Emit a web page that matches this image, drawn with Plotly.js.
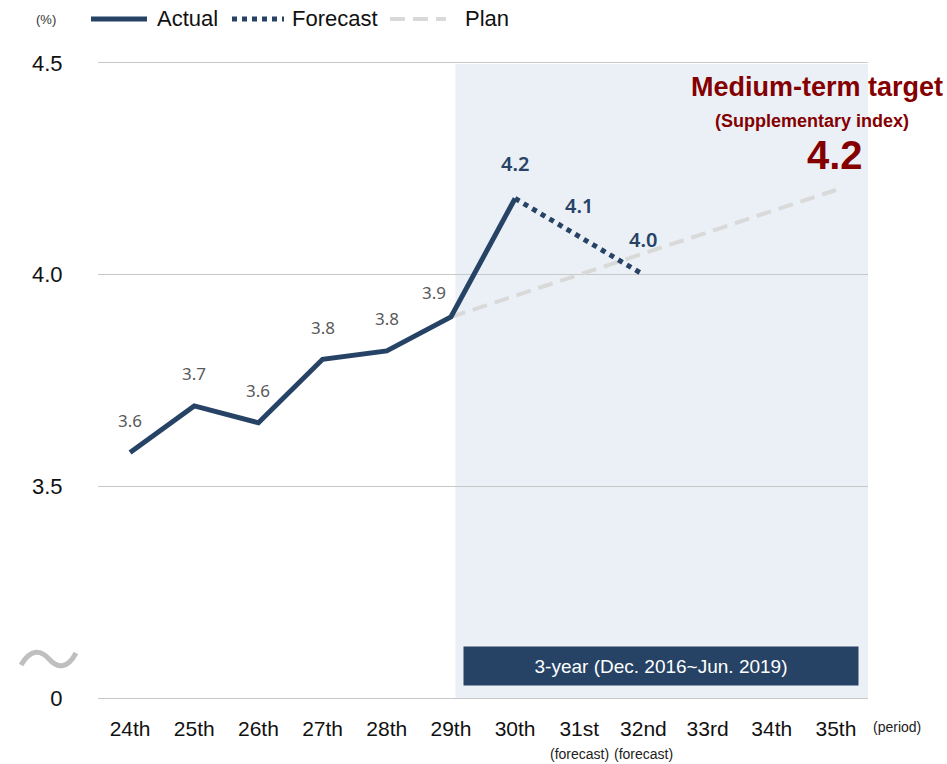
<!DOCTYPE html>
<html>
<head>
<meta charset="utf-8">
<script src="https://cdn.plot.ly/plotly-3.0.1.min.js"></script>
<style>html,body{margin:0;padding:0;background:#fff;}#chart{width:947px;height:764px;}</style>
</head>
<body>
<div id="chart"></div>
<script>
// ---- data ----
const categories = ["24th","25th","26th","27th","28th","29th","30th","31st","32nd","33rd","34th","35th"];
const actualCats = ["24th","25th","26th","27th","28th","29th","30th"];
const actualValues = [3.58, 3.69, 3.65, 3.80, 3.82, 3.90, 4.18];
const actualLabels = ["3.6","3.7","3.6","3.8","3.8","3.9","4.2"];
const forecastCats = ["30th","31st","32nd"];
const forecastValues = [4.18, 4.09, 4.00];
const forecastLabels = ["", "4.1", "4.0"];
const planCats = ["29th","35th"];
const planValues = [3.90, 4.20];
const yTickVals = [3.0, 3.5, 4.0, 4.5];
const yTickText = ["0", "3.5", "4.0", "4.5"];
const seriesNames = ["Actual", "Forecast", "Plan"];
const targetValue = "4.2";

// ---- styles ----
const NAVY = "#264366";
const DARKRED = "#840000";
const PLANGRAY = "#d9d9d9";
const GRID = "#c8c8c8";
const FONT = "'Liberation Sans', Arial, sans-serif";
const LABFONT = "'Noto Sans', 'Open Sans', sans-serif";
const PLANDASH = "15px,8px";

const traces = [
  {x: planCats, y: planValues, name: seriesNames[2], mode: "lines", type: "scatter",
   line: {color: PLANGRAY, width: 4, dash: PLANDASH}, hoverinfo: "skip", showlegend: false},
  {x: actualCats, y: actualValues, name: seriesNames[0], mode: "lines", type: "scatter",
   line: {color: NAVY, width: 5}, hoverinfo: "skip", showlegend: false},
  {x: forecastCats, y: forecastValues, name: seriesNames[1], mode: "lines", type: "scatter",
   line: {color: NAVY, width: 5, dash: "dot"}, hoverinfo: "skip", showlegend: false}
];

// helper: pixel -> paper (plot area l=98, r=868, t=63, b=698)
const L = 98, R = 868, T = 63, B = 698;
const px = v => (v - L) / (R - L);
const py = v => (B - v) / (B - T);

const annotations = [];
actualLabels.forEach((t, i) => {
  const isNavy = i === actualLabels.length - 1;
  const dx = (i === 5) ? -17 : 0;
  const dy = (i === 5) ? 25 : (isNavy ? 35 : 32);
  annotations.push({x: actualCats[i], y: actualValues[i], xref: "x", yref: "y", text: t,
    showarrow: false, xshift: dx, yshift: dy, xanchor: "center", yanchor: "middle",
    font: {family: LABFONT, size: isNavy ? 20 : 17, color: isNavy ? NAVY : "#595959",
           weight: isNavy ? 600 : 400}});
});
forecastLabels.forEach((t, i) => {
  if (!t) return;
  annotations.push({x: forecastCats[i], y: forecastValues[i], xref: "x", yref: "y", text: t,
    showarrow: false, yshift: i === 1 ? 31 : 35, xanchor: "center", yanchor: "middle",
    font: {family: LABFONT, size: 20, color: NAVY, weight: 600}});
});
const paperText = (x, y, text, font, extra) => Object.assign({
  xref: "paper", yref: "paper", x: px(x), y: py(y), text: text, showarrow: false,
  xanchor: "center", yanchor: "middle", font: font}, extra || {});
annotations.push(
  paperText(817, 87, "Medium-term target", {family: FONT, size: 27, color: DARKRED, weight: 700}),
  paperText(812, 121, "(Supplementary index)", {family: FONT, size: 18, color: DARKRED, weight: 700}),
  paperText(835, 155, targetValue, {family: FONT, size: 40, color: DARKRED, weight: 700}),
  paperText(661, 666, "3-year (Dec. 2016~Jun. 2019)", {family: FONT, size: 19, color: "#ffffff", weight: 500},
            {width: 394, height: 38, bgcolor: NAVY, borderpad: 0}),
  paperText(897, 727, "(period)", {family: FONT, size: 14, color: "#222"}),
  paperText(46, 20, "(%)", {family: FONT, size: 13, color: "#333"}),
  {xref: "x", yref: "paper", x: "31st", y: py(754), text: "(forecast)", showarrow: false,
   xanchor: "center", yanchor: "middle", font: {family: FONT, size: 14, color: "#222"}},
  {xref: "x", yref: "paper", x: "32nd", y: py(754), text: "(forecast)", showarrow: false,
   xanchor: "center", yanchor: "middle", font: {family: FONT, size: 14, color: "#222"}},
  // legend texts
  paperText(155, 19, seriesNames[0], {family: FONT, size: 22, color: "#111"}, {xanchor: "left"}),
  paperText(290, 19, seriesNames[1], {family: FONT, size: 22, color: "#111"}, {xanchor: "left"}),
  paperText(463, 19, seriesNames[2], {family: FONT, size: 22, color: "#111"}, {xanchor: "left"})
);

// tilde (axis break mark) path in paper coords
const tilde = `M ${px(21)},${py(665)} C ${px(31)},${py(648)} ${px(41)},${py(650)} ${px(49)},${py(659)} C ${px(57)},${py(668)} ${px(67)},${py(670)} ${px(76)},${py(653)}`;

const legLine = (x0, x1, line) => ({type: "line", xref: "paper", yref: "paper",
  x0: px(x0), x1: px(x1), y0: py(19), y1: py(19), line: line});

const shapes = [
  {type: "rect", xref: "x", yref: "paper", x0: 5.07, x1: 11.5, y0: 0, y1: py(64),
   fillcolor: "#ebf0f7", line: {width: 0}, layer: "below"},
  {type: "path", xref: "paper", yref: "paper", path: tilde,
   line: {color: "#bfbfbf", width: 5}},
  legLine(91, 147, {color: NAVY, width: 5}),
  legLine(232, 284, {color: NAVY, width: 5, dash: "dot"}),
  legLine(390, 446, {color: PLANGRAY, width: 4, dash: PLANDASH})
];

const layout = {
  width: 947, height: 764,
  margin: {l: L, r: 947 - R, t: T, b: 764 - B, autoexpand: false},
  paper_bgcolor: "#ffffff", plot_bgcolor: "rgba(0,0,0,0)",
  font: {family: FONT, color: "#111"},
  showlegend: false,
  xaxis: {type: "category", categoryorder: "array", categoryarray: categories,
          range: [-0.5, 11.5], showgrid: false, zeroline: false,
          showline: true, linecolor: GRID, linewidth: 1, mirror: true,
          ticks: "outside", ticklen: 12, tickcolor: "rgba(0,0,0,0)", automargin: false,
          tickfont: {family: FONT, size: 21, color: "#111"}, fixedrange: true},
  yaxis: {range: [3.0, 4.5], tickvals: yTickVals, ticktext: yTickText,
          showgrid: true, gridcolor: GRID, gridwidth: 1, zeroline: false, showline: false,
          ticks: "outside", ticklen: 30, tickcolor: "rgba(0,0,0,0)", automargin: false,
          tickfont: {family: FONT, size: 22, color: "#111"}, fixedrange: true},
  shapes: shapes,
  annotations: annotations
};

Plotly.newPlot("chart", traces, layout, {displayModeBar: false, staticPlot: true});
</script>
</body>
</html>
